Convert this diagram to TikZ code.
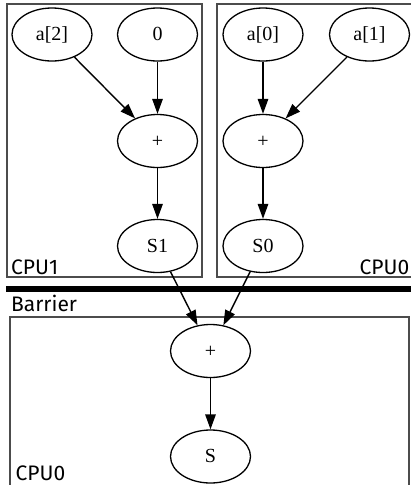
\documentclass[tikz,border=0pt]{standalone}
\usepackage{fontspec}
\setmainfont{Liberation Serif}
\newfontfamily\labelfont{Fira Sans}
\usetikzlibrary{shapes.geometric,arrows.meta}
\tikzset{
  opnode/.style={draw, ellipse, line width=1.3pt, minimum width=80pt, minimum height=53pt,
    inner sep=0pt, text height=15pt, text depth=3pt, font=\fontsize{20}{24}\selectfont},
  cluster/.style={draw=black!70, line width=1.4pt},
  edge/.style={line width=1.4pt, -{Triangle[length=15pt,width=10.5pt]}},
  lbl/.style={inner sep=0pt, font=\labelfont\fontsize{21}{25}\selectfont},
}
\begin{document}
\begin{tikzpicture}[x=1pt,y=-1pt]
\useasboundingbox (0,0) rectangle (411,485);
% clusters
\draw[cluster] (7,4) rectangle (202,277);
\draw[cluster] (217,4) rectangle (412,277);
\draw[cluster] (10,317) rectangle (409,492);
% barrier
\draw[line width=6pt] (6,288.5) -- (412,288.5);
% labels
\node[lbl, anchor=base west] (lcpu1) at (11,274) {CPU1};
\node[lbl, anchor=base east] (lcpu0a) at (409.5,274) {CPU0};
\node[lbl, anchor=base west] (lbar) at (11,311.5) {Barrier};
\node[lbl, anchor=base west] (lcpu0b) at (15.5,480) {CPU0};
% nodes
\node[opnode] (a2) at (52,34.5) {a[2]};
\node[opnode] (z) at (157.5,34.5) {0};
\node[opnode] (p1) at (157.5,141) {+};
\node[opnode] (s1) at (157.5,246) {S1};
\node[opnode] (a0) at (263,34.5) {a[0]};
\node[opnode] (a1) at (369.5,34.5) {a[1]};
\node[opnode] (p0) at (263,141) {+};
\node[opnode] (s0) at (263,246) {S0};
\node[opnode] (p) at (210.5,351) {+};
\node[opnode] (s) at (210.5,456.5) {S};
% edges
\draw[edge] (a2) -- (p1);
\draw[edge] (z) -- (p1);
\draw[edge] (p1) -- (s1);
\draw[edge] (a0) -- (p0);
\draw[edge] (a1) -- (p0);
\draw[edge] (p0) -- (s0);
\draw[edge] (s1) -- (p);
\draw[edge] (s0) -- (p);
\draw[edge] (p) -- (s);
\end{tikzpicture}
\end{document}
